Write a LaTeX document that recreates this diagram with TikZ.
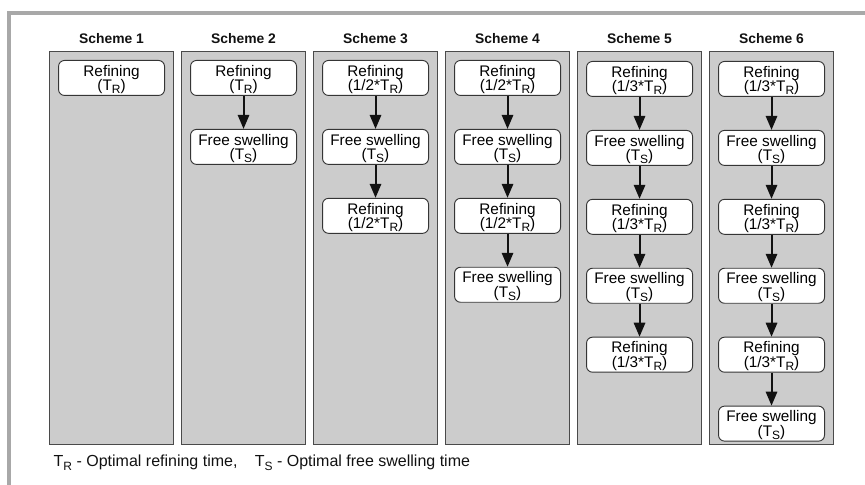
\documentclass[tikz,border=0pt]{standalone}
\usepackage{fontspec}
\setmainfont{Liberation Sans}
\usetikzlibrary{arrows.meta,positioning}
\definecolor{cFrame}{HTML}{A8A8A8}
\definecolor{cPanel}{HTML}{CCCCCC}
\definecolor{cEdge}{HTML}{4A4A4A}
\definecolor{cInk}{HTML}{111111}
\newcommand{\lowsub}[1]{\raisebox{-2.3pt}{\fontsize{9}{9}\selectfont #1}}
\newcommand{\tR}{T\lowsub{R}}
\newcommand{\tS}{T\lowsub{S}}
\tikzset{
  flow/.style={-{Triangle[length=10.5pt,width=8.5pt]},line width=1.5pt,draw=cInk},
  panel/.style={draw=cEdge,fill=cPanel,line width=0.8pt,inner sep=0pt,
                minimum width=93pt,minimum height=294.75pt},
  stepbox/.style={rounded corners=4.5pt,draw=cInk!85,fill=white,line width=0.7pt,
                  align=center,inner sep=0pt,minimum width=79.5pt,minimum height=26.25pt,
                  text depth=0pt,font=\fontsize{11.5}{11}\selectfont},
  title/.style={font=\fontsize{10.4}{12}\selectfont\bfseries,text=cInk},
  note/.style={font=\fontsize{12}{14}\selectfont,text=cInk}
}

\begin{document}
\begin{tikzpicture}[x=0.75pt,y=0.75pt,node distance=24.75pt]
  \useasboundingbox (0,0) rectangle (865,485);
  \draw[draw=cFrame,line width=2.6pt] (9,0) -- (9,472) -- (865,472);

  \foreach \n/\x in {1/49,2/181,3/313,4/445,5/577,6/709} {
    \node[panel,anchor=north west] (p\n) at (\x,434) {};
    \node[title,above=5.25pt of p\n.north,anchor=base] (h\n) {Scheme \n};
  }

  % Scheme 1
  \node[stepbox,below=6.75pt of p1.north] (s1a) {Refining\\(\tR)};
  % Scheme 2
  \node[stepbox,below=6.75pt of p2.north] (s2a) {Refining\\(\tR)};
  \node[stepbox,below=of s2a] (s2b) {Free swelling\\(\tS)};
  % Scheme 3
  \node[stepbox,below=6.75pt of p3.north] (s3a) {Refining\\(1/2*\tR)};
  \node[stepbox,below=of s3a] (s3b) {Free swelling\\(\tS)};
  \node[stepbox,below=of s3b] (s3c) {Refining\\(1/2*\tR)};
  % Scheme 4
  \node[stepbox,below=6.75pt of p4.north] (s4a) {Refining\\(1/2*\tR)};
  \node[stepbox,below=of s4a] (s4b) {Free swelling\\(\tS)};
  \node[stepbox,below=of s4b] (s4c) {Refining\\(1/2*\tR)};
  \node[stepbox,below=of s4c] (s4d) {Free swelling\\(\tS)};
  % Scheme 5
  \node[stepbox,below=7.5pt of p5.north] (s5a) {Refining\\(1/3*\tR)};
  \node[stepbox,below=of s5a] (s5b) {Free swelling\\(\tS)};
  \node[stepbox,below=of s5b] (s5c) {Refining\\(1/3*\tR)};
  \node[stepbox,below=of s5c] (s5d) {Free swelling\\(\tS)};
  \node[stepbox,below=of s5d] (s5e) {Refining\\(1/3*\tR)};
  % Scheme 6
  \node[stepbox,below=7.5pt of p6.north] (s6a) {Refining\\(1/3*\tR)};
  \node[stepbox,below=of s6a] (s6b) {Free swelling\\(\tS)};
  \node[stepbox,below=of s6b] (s6c) {Refining\\(1/3*\tR)};
  \node[stepbox,below=of s6c] (s6d) {Free swelling\\(\tS)};
  \node[stepbox,below=of s6d] (s6e) {Refining\\(1/3*\tR)};
  \node[stepbox,below=of s6e] (s6f) {Free swelling\\(\tS)};

  \foreach \a/\b in {s2a/s2b,s3a/s3b,s3b/s3c,s4a/s4b,s4b/s4c,s4c/s4d,
                     s5a/s5b,s5b/s5c,s5c/s5d,s5d/s5e,
                     s6a/s6b,s6b/s6c,s6c/s6d,s6d/s6e,s6e/s6f}
    \draw[flow] (\a) -- (\b);

  \node[note,anchor=base west] (key) at (49,18)
    {\tR{} - Optimal refining time,\hspace{13pt}\tS{} - Optimal free swelling time};
\end{tikzpicture}
\end{document}
